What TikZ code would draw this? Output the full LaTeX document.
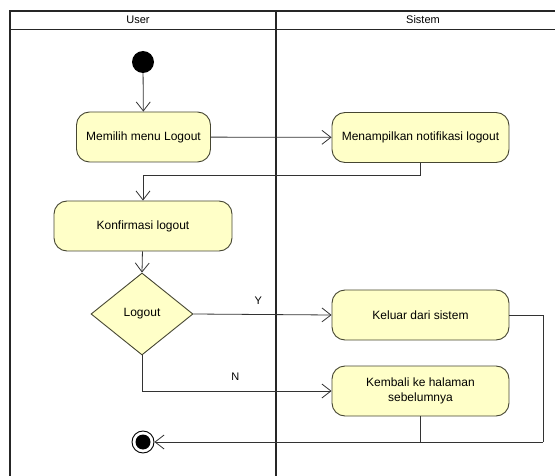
\documentclass[tikz,border=0pt]{standalone}
\usepackage{fontspec}
\setmainfont{Liberation Sans}
\usetikzlibrary{arrows.meta,shapes.geometric}
\definecolor{actfill}{RGB}{255,255,200}
\definecolor{actdraw}{RGB}{70,70,50}
\begin{document}
\begin{tikzpicture}[x=1pt,y=-1pt,
  act/.style={draw=actdraw,fill=actfill,rounded corners=13pt,line width=0.9pt,
    minimum height=50pt,align=center,font=\fontsize{12}{15}\selectfont,inner sep=2pt},
  dec/.style={diamond,draw=actdraw,fill=actfill,line width=0.9pt,minimum width=102pt,minimum height=82pt,
    aspect=1.25,inner sep=0pt,font=\fontsize{12}{15}\selectfont},
  flow/.style={draw=black!80,line width=0.8pt,-{Straight Barb[length=9pt,width=14pt,line width=0.8pt]}},
  link/.style={draw=black!80,line width=0.8pt},
  lane/.style={draw=black!85,line width=1.6pt},
  hdr/.style={font=\fontsize{11}{13}\selectfont,inner sep=0pt},
  lbl/.style={font=\fontsize{11}{13}\selectfont,inner sep=0pt}]
\useasboundingbox (0,0) rectangle (555,476);
\clip (0,0) rectangle (555,476);
% swimlanes
\draw[lane] (10,490) -- (10,11) -- (570,11);
\draw[lane] (10,29.5) -- (570,29.5);
\draw[lane] (276,11) -- (276,490);
\node[hdr] (hu) at (138,20) {User};
\node[hdr] (hs) at (423,20) {Sistem};
% nodes
\node[circle,fill=black,minimum size=22pt,inner sep=0pt] (start) at (143,62) {};
\node[act,minimum width=134pt] (memilih) at (143.5,137) {Memilih menu Logout};
\node[act,minimum width=177pt] (tampil) at (420.5,137.5) {Menampilkan notifikasi logout};
\node[act,minimum width=178pt] (konf) at (143,226) {Konfirmasi logout};
\node[dec] (dlog) at (142,314) {Logout};
\node[act,minimum width=177pt] (keluar) at (420.5,315) {Keluar dari sistem};
\node[act,minimum width=177pt] (kembali) at (420.5,391) {Kembali ke halaman\\sebelumnya};
\node[circle,draw=black,line width=0.9pt,minimum size=22pt,inner sep=0pt] (end) at (143,442) {};
\fill[black] (end.center) circle (7.5pt);
\coordinate (j1) at (143,175);
\coordinate (j2) at (543,442);
% connectors
\draw[flow] (start) -- (memilih);
\draw[flow] (memilih) -- (tampil);
\draw[flow] (tampil.south) |- (j1) -- (konf.north);
\draw[flow] (konf) -- (dlog.north);
\draw[flow] (dlog.east) -- node[lbl,pos=0.47,above=10pt]{Y} (keluar.west);
\draw[flow] (dlog.south) |- node[lbl,pos=0.746,above=10pt]{N} (kembali.west);
\draw[link] (keluar.east) -| (j2);
\draw[flow] (j2) -- (end.east);
\draw[link] (kembali.south) -- (kembali.south |- j2);
\end{tikzpicture}
\end{document}
